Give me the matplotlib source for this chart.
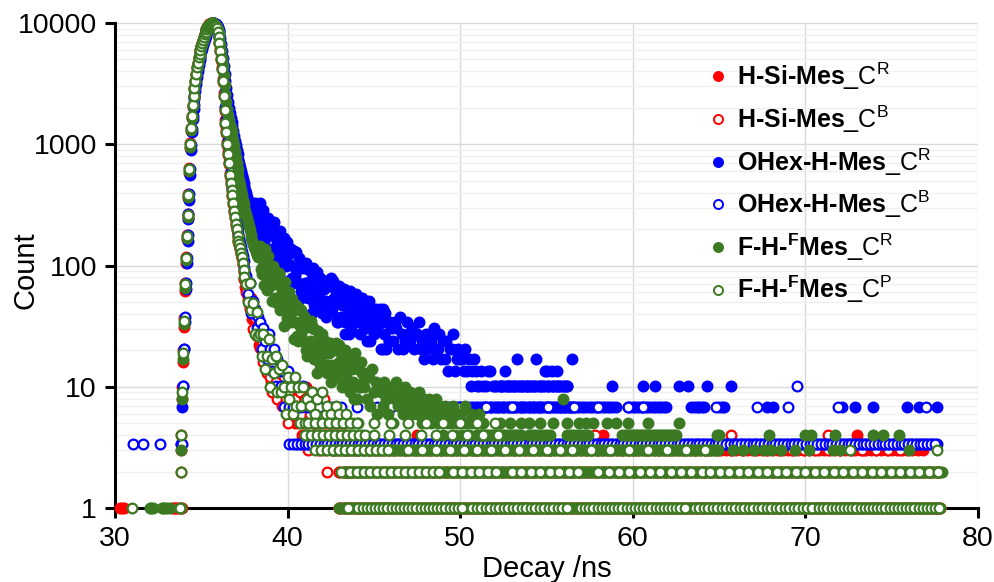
import numpy as np
import matplotlib
matplotlib.use('Agg')
import matplotlib.pyplot as plt
from matplotlib.lines import Line2D
from matplotlib.ticker import LogLocator, NullFormatter

plt.rcParams['font.family'] = ['Liberation Sans', 'DejaVu Sans']
plt.rcParams['mathtext.fontset'] = 'custom'
plt.rcParams['mathtext.rm'] = 'Liberation Sans'
plt.rcParams['mathtext.bf'] = 'Liberation Sans:bold'
plt.rcParams['mathtext.it'] = 'Liberation Sans:italic'

# channel width of the decay histogram (ns)
DT = 0.05
CLOUD_DT = 0.1
# the OHex-H-Mes curves are normalised to the same peak height
BLUE_SCALE = 3.4

# ---------------- H-Si-Mes_C^R (red, filled) ----------------
hsi_r_t0 = 33.80
hsi_r_counts = [1, 3, 8, 16, 31, 62, 105, 165, 245, 360, 580, 940, 1290, 1640, 2040, 2440, 2840, 3250,
                3750, 4250, 4680, 5150, 5580, 6000, 6420, 6830, 7250, 7700, 8120, 8520, 8900, 9230, 9520,
                9730, 9880, 9970, 10000, 10000, 9980, 9850, 9680, 9450, 9150, 8600, 7850, 6950, 6050, 5150,
                4350, 3450, 2650, 2000, 1580, 1300, 1040, 860, 720, 580, 495, 430, 385, 335, 285, 255, 225,
                203, 178, 162, 150, 139, 127, 116, 103, 90, 78]
hsi_r_cloud_t0 = 37.55
hsi_r_cloud = [66, 58, 48, 54, 36, 40, 28, 35, 22, 25,
               19, 24, 15, 13, 20, 11, 16, 10, 14, 8,
               12, 9, 7, 11, 8, 13, 6, 9, 10, 5,
               8, 6, 9, 4, 7, 10, 5, 6, 8, 4,
               5, 7, 3, 6, 4, 8, 5, 3, 6, 4,
               4, 6, 3, 5, 2, 4, 6, 3, 4, 2]
hsi_r_rows = [(1, 43.0, 77.9, 0.15), (2, 43.2, 77.8, 0.2), (3, 43.5, 77.0, 0.3)]
hsi_r_extra_t = [30.30, 30.40, 30.50, 33.30, 33.50, 33.60, 33.70, 73.0, 47.5, 52.0, 58.3]
hsi_r_extra_c = [1, 1, 1, 1, 1, 1, 1, 4, 4, 4, 4]

# ---------------- H-Si-Mes_C^B (red, open) ----------------
hsi_b_t0 = 33.80
hsi_b_counts = [2, 4, 10, 20, 37, 72, 118, 180, 265, 390, 640, 1020, 1370, 1720, 2120, 2520, 2920, 3320,
                3820, 4320, 4720, 5220, 5620, 6020, 6420, 6820, 7220, 7720, 8120, 8520, 8920, 9220, 9520,
                9720, 9870, 9960, 10000, 9990, 9940, 9790, 9590, 9380, 9080, 8480, 7680, 6780, 5880, 4980,
                4180, 3280, 2480, 1880, 1480, 1230, 985, 815, 690, 550, 470, 412, 372, 322, 274, 245, 216,
                196, 172, 157, 147, 137, 125, 115, 102, 89, 77]
hsi_b_cloud_t0 = 37.60
hsi_b_cloud = [60, 52, 44, 47, 30, 37, 26, 29, 21, 24,
               16, 21, 13, 17, 12, 9, 15, 11, 8, 13,
               10, 7, 12, 8, 5, 9, 11, 6, 8, 7,
               5, 9, 6, 4, 8, 7, 3, 6, 9, 5,
               7, 4, 5, 3, 6, 8, 4, 2, 5, 6,
               3, 5, 4, 6, 2, 3, 5, 4, 3, 2]
hsi_b_rows = [(1, 43.0, 77.8, 0.3), (2, 43.4, 77.7, 0.45), (3, 44.0, 76.0, 0.7)]
hsi_b_extra_t = [33.40, 33.90, 57.8, 65.7, 73.3, 71.3]
hsi_b_extra_c = [1, 1, 4, 4, 3, 4]

# ---------------- OHex-H-Mes_C^R (blue, filled), raw counts ----------------
ohex_r_t0 = 33.85
ohex_r_counts = [1, 2, 3, 6, 10, 19, 31, 47, 71, 103, 165, 265, 368, 471, 574, 691, 809, 926, 1059, 1191,
                 1324, 1456, 1574, 1691, 1809, 1926, 2044, 2176, 2294, 2412, 2529, 2632, 2721, 2794, 2853,
                 2897, 2926, 2941, 2941, 2912, 2868, 2809, 2721, 2588, 2412, 2206, 1971, 1735, 1500, 1294,
                 1118, 971, 853, 750, 662, 588, 529, 485, 447, 412, 376, 344, 315, 288, 265, 244, 224, 206,
                 191, 176, 165, 153, 141, 132, 124, 116, 109, 103, 97, 91, 87, 82, 79, 75]
ohex_r_cloud_t0 = 38.10
ohex_r_cloud = [97, 58, 69, 96, 44, 66, 52, 36, 67, 52,
                38, 67, 39, 46, 25, 48, 37, 50, 29, 38,
                30, 40, 21, 28, 38, 21, 29, 16, 28, 21,
                29, 16, 22, 12, 24, 17, 26, 14, 18, 12,
                19, 11, 21, 14, 23, 12, 16, 18, 10, 20,
                11, 16, 8, 18, 12, 18, 9, 13, 10, 15,
                12, 8, 16, 9, 13, 7, 15, 9, 11, 8,
                13, 9, 10, 6, 13, 8, 6, 10, 7, 9,
                7, 10, 9, 6, 11, 8, 6, 7, 10, 8,
                7, 9, 6, 8, 8, 10, 6, 7, 5, 8,
                6, 8, 7, 5, 9, 6, 6, 8, 5, 7,
                5, 7, 4, 6, 6, 8, 4, 5, 6, 5,
                5, 4, 6, 4, 5, 3, 4, 5, 4, 3,
                3, 4, 3, 2, 3, 4, 4, 2, 3, 3,
                3, 2, 3, 3, 2, 4, 3, 3, 2, 3,
                2, 3, 5, 3, 2, 3, 2, 3, 3, 2,
                3, 2, 3, 5, 2, 3, 2, 3, 4, 2,
                3, 2, 4, 3, 2, 3, 2, 3, 2, 3,
                2, 3, 2, 2, 5]
# the in-between channels of the same decay
ohex_r_cloud2_t0 = 38.15
ohex_r_cloud2 = [63, 85, 48, 72, 84, 47, 57, 72, 40, 59,
                 61, 33, 50, 39, 57, 30, 46, 31, 46, 22,
                 37, 23, 39, 24, 27, 34, 18, 29, 18, 31,
                 17, 27, 18, 28, 14, 22, 14, 23, 19, 15,
                 22, 15, 12, 20, 13, 22, 15, 10, 19, 15,
                 14, 19, 10, 15, 8, 16, 16, 10, 17, 11,
                 15, 10, 13, 15, 9, 11, 7, 13, 13, 9,
                 9, 12, 13, 10, 6, 12, 10, 7, 10, 9]
ohex_r_rows = [(1, 45.0, 77.6, 0.2), (2, 47.0, 59.1, 0.15), (2, 59.7, 62.0, 0.15),
               (2, 63.4, 64.2, 0.15), (2, 65.0, 65.4, 0.15), (3, 52.3, 56.2, 0.15)]
ohex_r_extra_t = [67.8, 68.1, 72.1, 72.9, 73.9, 75.9, 76.6, 77.6,
                  58.8, 60.6, 61.3, 62.7, 63.2, 64.3, 65.7, 55.0, 55.6]
ohex_r_extra_c = [2, 2, 2, 2, 2, 2, 2, 2, 3, 3, 3, 3, 3, 3, 3, 4, 4]

# ---------------- OHex-H-Mes_C^B (blue, open), raw counts ----------------
ohex_b_t0 = 33.85
ohex_b_counts = [1, 1, 3, 6, 11, 21, 34, 52, 78, 115, 185, 290, 395, 500, 615, 735, 855, 975, 1115, 1260,
                 1385, 1525, 1650, 1765, 1885, 2000, 2120, 2265, 2385, 2500, 2615, 2705, 2795, 2855, 2900,
                 2930, 2941, 2941, 2925, 2885, 2825, 2765, 2680, 2520, 2300, 2040, 1770, 1500, 1260, 1010,
                 780, 600, 470, 385, 310, 255, 215, 175, 148, 128, 115, 100, 86, 76, 67, 60, 54, 49, 45,
                 42, 38, 35, 32, 28, 25]
ohex_b_cloud_t0 = 37.60
ohex_b_cloud = [24, 17, 21, 12, 15, 13, 9, 11, 10, 6,
                9, 7, 5, 8, 6, 4, 6, 3, 5, 4,
                3, 4, 2, 3, 4, 2, 3, 2, 3, 1,
                2, 1, 2, 3, 1, 2, 1, 2, 1, 1]
ohex_b_rows = [(1, 40.1, 77.6, 0.22)]
ohex_b_extra_t = [31.04, 31.60, 32.60, 41.8, 42.5, 43.1, 44.0, 45.2, 46.0, 47.3, 48.9, 50.0, 51.5, 53.0,
                  55.1, 56.6, 58.0, 59.7, 60.6, 64.8, 67.2, 69.0, 71.9, 77.0, 69.5]
ohex_b_extra_c = [1, 1, 1, 2, 2, 2, 2, 2, 2, 2, 2, 2, 2, 2, 2, 2, 2, 2, 2, 2, 2, 2, 2, 2, 3]

# ---------------- F-H-FMes_C^R (green, filled) ----------------
fh_r_t0 = 33.80
fh_r_counts = [1, 3, 8, 17, 33, 65, 110, 170, 250, 370, 600, 950, 1300, 1650, 2050, 2450, 2850, 3250,
               3750, 4250, 4650, 5150, 5550, 5950, 6350, 6750, 7150, 7650, 8050, 8450, 8850, 9150, 9450,
               9650, 9800, 9900, 9950, 9950, 9950, 9850, 9700, 9450, 9150, 8700, 8200, 7500, 6700, 5900,
               5100, 4400, 3700, 3100, 2600, 2250, 1950, 1750, 1580, 1450, 1350, 1260, 1180, 1080, 980,
               880, 790, 700, 620, 560, 510, 460, 420, 380, 350, 320, 300, 280, 260, 245, 230, 210, 195,
               180, 168, 160, 150, 142, 136, 130, 126, 122, 118]
fh_r_cloud_t0 = 38.40
fh_r_cloud = [146, 85, 100, 138, 63, 95, 74, 51, 93, 70,
              49, 87, 50, 59, 32, 60, 45, 61, 34, 44,
              34, 47, 24, 32, 43, 24, 32, 18, 31, 24,
              32, 17, 23, 13, 26, 18, 27, 15, 19, 13,
              19, 11, 22, 14, 23, 12, 16, 19, 11, 20,
              12, 15, 9, 17, 11, 19, 8, 14, 10, 13,
              10, 13, 8, 12, 7, 14, 9, 11, 6, 10,
              9, 7, 11, 8, 6, 10, 9, 5, 8, 11,
              7, 9, 8, 6, 10, 7, 8, 9, 6, 7,
              8, 6, 9, 7, 5, 8, 7, 6, 8, 5,
              7, 6, 8, 5, 7, 6, 4, 7, 6, 5,
              6, 5, 7, 4, 6, 5, 6, 4, 5, 7,
              5, 4, 6, 5, 3, 5, 4, 6, 4, 5]
fh_r_cloud2_t0 = 38.45
fh_r_cloud2 = [93, 124, 69, 102, 119, 67, 80, 99, 54, 78,
               80, 43, 64, 50, 73, 37, 55, 37, 53, 25,
               43, 26, 45, 27, 31, 38, 20, 32, 21, 35,
               19, 30, 20, 29, 15, 23, 14, 24, 19, 15,
               23, 15, 12, 20, 13, 22, 15, 10, 19, 15,
               14, 17, 10, 14, 8, 15, 16, 10, 16, 11]
fh_r_rows = [(1, 43.0, 77.8, 0.1), (2, 43.2, 77.9, 0.1), (3, 42.5, 65.0, 0.12),
             (4, 51.0, 53.6, 0.12), (4, 54.0, 55.2, 0.15), (4, 56.2, 57.5, 0.15), (4, 59.4, 62.6, 0.12),
             (4, 64.9, 65.0, 0.1)]
fh_r_extra_t = [32.0, 32.1, 32.2, 32.7, 32.8, 32.9, 33.0, 33.2,
                65.8, 66.4, 67.0, 67.6, 68.0, 68.6, 69.4, 70.2, 71.6, 72.0, 76.0,
                67.9, 70.0, 70.3, 71.7, 73.9, 74.5, 75.4,
                52.3, 52.9, 53.5, 54.0, 54.6, 55.4, 56.2, 56.9, 57.3, 57.7, 58.5, 59.0, 59.7, 60.9, 62.7,
                55.96]
fh_r_extra_c = [1, 1, 1, 1, 1, 1, 1, 1,
                3, 3, 3, 3, 3, 3, 3, 3, 3, 3, 3,
                4, 4, 4, 4, 4, 4, 4,
                5, 5, 5, 5, 5, 5, 5, 5, 5, 5, 5, 5, 5, 5, 5,
                8]

# ---------------- F-H-FMes_C^P (green, open) ----------------
fh_p_t0 = 33.80
fh_p_counts = [2, 4, 9, 19, 35, 70, 115, 175, 260, 380, 620, 1000, 1350, 1700, 2100, 2500, 2900, 3300,
               3800, 4300, 4700, 5200, 5600, 6000, 6400, 6800, 7200, 7700, 8100, 8500, 8900, 9200, 9500,
               9700, 9850, 9950, 10000, 10000, 9950, 9800, 9600, 9400, 9100, 8500, 7700, 6800, 5900, 5000,
               4200, 3300, 2500, 1900, 1500, 1250, 1000, 830, 700, 560, 480, 420, 380, 330, 280, 250, 220,
               200, 175, 160, 150, 140, 128, 118, 105, 92, 80]
fh_p_cloud_t0 = 37.60
fh_p_cloud = [70, 50, 72, 43, 49, 27, 41, 26, 27, 18,
              27, 14, 18, 25, 10, 17, 13, 18, 9, 14,
              9, 15, 10, 6, 12, 8, 10, 6, 12, 7,
              10, 5, 7, 10, 5, 8, 4, 7, 9, 5,
              6, 8, 4, 5, 9, 3, 6, 7, 4, 6,
              5, 3, 7, 4, 6, 2, 5, 4, 6, 3,
              4, 2, 5, 3, 3, 5, 2, 4, 3, 2]
fh_p_rows = [(1, 44.1, 50.3, 0.24), (1, 50.7, 56.4, 0.26), (1, 57.0, 63.2, 0.24), (1, 63.6, 70.5, 0.26),
             (1, 70.8, 77.8, 0.24),
             (2, 43.6, 49.0, 0.4), (2, 49.6, 52.2, 0.5), (2, 53.0, 57.0, 0.55), (2, 58.0, 64.0, 0.6),
             (2, 64.5, 77.7, 0.55),
             (3, 41.6, 46.0, 0.35), (3, 47.0, 56.0, 0.8), (3, 56.5, 65.0, 1.1),
             (4, 41.0, 44.5, 0.35), (4, 45.0, 53.0, 0.9),
             (5, 41.2, 44.0, 0.4), (5, 45.0, 52.0, 1.0)]
fh_p_extra_t = [31.0, 33.75, 43.5, 72.6, 77.6]
fh_p_extra_c = [1, 1, 1, 3, 3]


def build(t0, counts, clouds, rows, extra_t, extra_c, scale=1.0):
    t = [t0 + DT * np.arange(len(counts))]
    c = [np.asarray(counts, float)]
    for ct0, cvals in clouds:
        t.append(ct0 + CLOUD_DT * np.arange(len(cvals)))
        c.append(np.asarray(cvals, float))
    for level, start, stop, step in rows:
        tr = np.arange(start, stop + 1e-9, step)
        t.append(tr)
        c.append(np.full(len(tr), float(level)))
    t.append(np.asarray(extra_t, float))
    c.append(np.asarray(extra_c, float))
    return np.concatenate(t), np.concatenate(c) * scale


RED = '#ff0000'
BLUE = '#0000ff'
GREEN = '#3b7a23'

series = [
    (build(hsi_r_t0, hsi_r_counts, [(hsi_r_cloud_t0, hsi_r_cloud)], hsi_r_rows, hsi_r_extra_t, hsi_r_extra_c),
     RED, True, r'$\mathbf{H‐Si‐Mes}\_\mathrm{C}^{\mathrm{R}}$'),
    (build(hsi_b_t0, hsi_b_counts, [(hsi_b_cloud_t0, hsi_b_cloud)], hsi_b_rows, hsi_b_extra_t, hsi_b_extra_c),
     RED, False, r'$\mathbf{H‐Si‐Mes}\_\mathrm{C}^{\mathrm{B}}$'),
    (build(ohex_r_t0, ohex_r_counts, [(ohex_r_cloud_t0, ohex_r_cloud), (ohex_r_cloud2_t0, ohex_r_cloud2)],
           ohex_r_rows, ohex_r_extra_t, ohex_r_extra_c, BLUE_SCALE),
     BLUE, True, r'$\mathbf{OHex‐H‐Mes}\_\mathrm{C}^{\mathrm{R}}$'),
    (build(ohex_b_t0, ohex_b_counts, [(ohex_b_cloud_t0, ohex_b_cloud)], ohex_b_rows, ohex_b_extra_t,
           ohex_b_extra_c, BLUE_SCALE),
     BLUE, False, r'$\mathbf{OHex‐H‐Mes}\_\mathrm{C}^{\mathrm{B}}$'),
    (build(fh_r_t0, fh_r_counts, [(fh_r_cloud_t0, fh_r_cloud), (fh_r_cloud2_t0, fh_r_cloud2)],
           fh_r_rows, fh_r_extra_t, fh_r_extra_c),
     GREEN, True, r'$\mathbf{F‐H‐^{F}Mes}\_\mathrm{C}^{\mathrm{R}}$'),
    (build(fh_p_t0, fh_p_counts, [(fh_p_cloud_t0, fh_p_cloud)], fh_p_rows, fh_p_extra_t, fh_p_extra_c),
     GREEN, False, r'$\mathbf{F‐H‐^{F}Mes}\_\mathrm{C}^{\mathrm{P}}$'),
]

fig = plt.figure(figsize=(9.95, 5.82), dpi=100)
ax = fig.add_axes([0.1156, 0.1271, 0.8673, 0.8334])

handles, labels = [], []
for (t, c), col, filled, lab in series:
    ax.plot(t, c, 'o', ls='none', ms=7.0, mew=1.6, mec=col, mfc=col if filled else 'white',
            clip_on=False, zorder=3)
    handles.append(Line2D([], [], marker='o', ls='none', ms=6.5, mew=1.4, mec=col,
                          mfc=col if filled else 'white'))
    labels.append(lab)

ax.set_yscale('log')
ax.set_xlim(30, 80)
ax.set_ylim(1, 10000)
ax.set_xticks([30, 40, 50, 60, 70, 80])
ax.set_xticklabels(['30', '40', '50', '60', '70', '80'])
ax.set_yticks([1, 10, 100, 1000, 10000])
ax.set_yticklabels(['1', '10', '100', '1000', '10000'])
ax.yaxis.set_minor_locator(LogLocator(base=10, subs=np.arange(2, 10)))
ax.yaxis.set_minor_formatter(NullFormatter())
ax.tick_params(axis='y', which='minor', length=0)
ax.tick_params(axis='both', which='major', direction='out', length=7, width=2.2, labelsize=20.5, pad=6)

ax.grid(True, which='major', axis='both', color='#d9d9d9', lw=1.0)
ax.grid(True, which='minor', axis='y', color='#f0f0f0', lw=1.0)
ax.set_axisbelow(True)
for s in ['top', 'right']:
    ax.spines[s].set_visible(False)
for s in ['left', 'bottom']:
    ax.spines[s].set_linewidth(2.2)
    ax.spines[s].set_color('black')

ax.set_xlabel('Decay /ns', fontsize=21, labelpad=2)
ax.set_ylabel('Count', fontsize=21)
ax.yaxis.set_label_coords(-0.088, 0.49)

fig.legend(handles, labels, loc='upper left', bbox_to_anchor=(0.7015, 0.917), frameon=False,
           fontsize=18, borderpad=0, handlelength=0.6, handletextpad=0.45, labelspacing=0.45)

fig.savefig('out.png', dpi=100)
